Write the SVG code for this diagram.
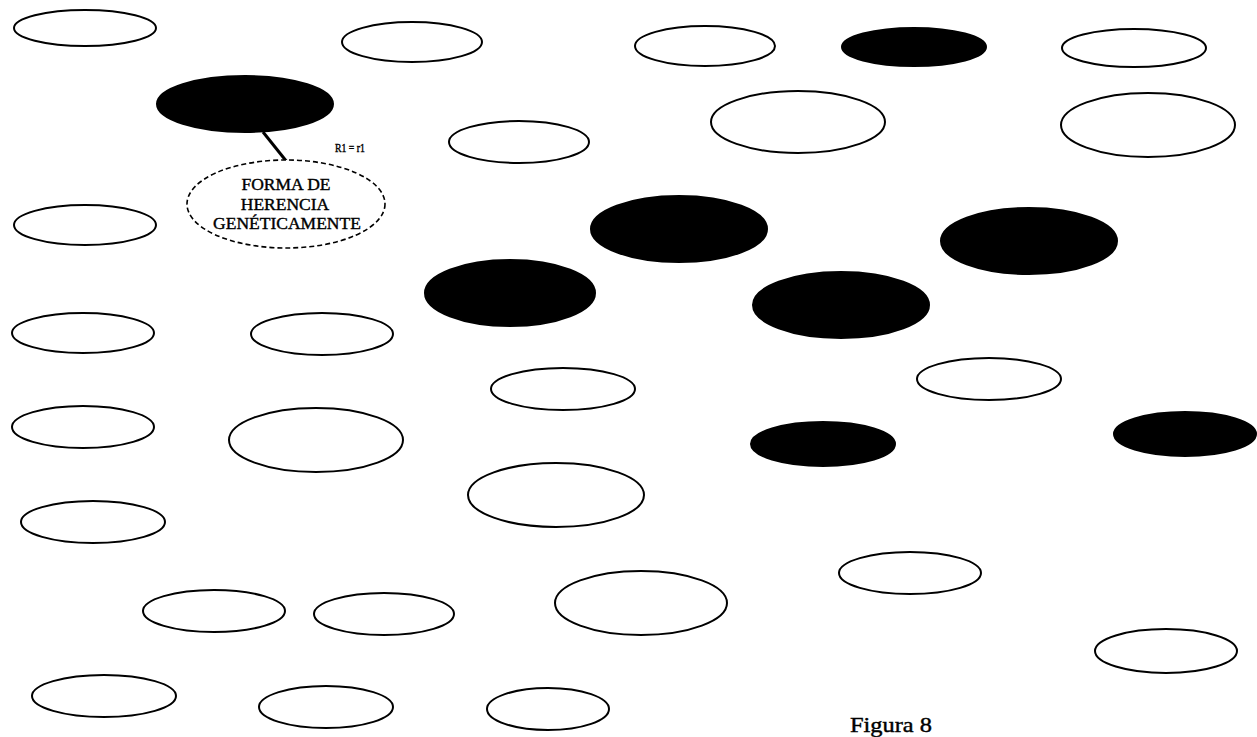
<svg xmlns="http://www.w3.org/2000/svg" width="1257" height="737" viewBox="0 0 1257 737">
<style>
.o{fill:#fff;stroke:#000;stroke-width:2}
.b{fill:#000;stroke:#000;stroke-width:2}
.d{fill:#fff;stroke:#000;stroke-width:1.6;stroke-dasharray:5,3}
.t{font-family:"Liberation Serif","Times New Roman",serif;fill:#000;stroke:#000;stroke-width:0.4}
</style>
<rect width="1257" height="737" fill="#fff"/>
<g id="connectors">
<line x1="263" y1="132" x2="287" y2="162" stroke="#000" stroke-width="3"/>
</g>
<g id="n1"><ellipse class="o" cx="85" cy="28" rx="71" ry="18"/></g>
<g id="n2"><ellipse class="o" cx="412" cy="42" rx="70" ry="20"/></g>
<g id="n3"><ellipse class="o" cx="705" cy="46" rx="70" ry="20"/></g>
<g id="n4"><ellipse class="b" cx="914" cy="47" rx="72" ry="19"/></g>
<g id="n5"><ellipse class="o" cx="1134" cy="48" rx="72" ry="19"/></g>
<g id="n6"><ellipse class="b" cx="245" cy="104" rx="88" ry="28"/></g>
<g id="n7"><ellipse class="o" cx="519" cy="142" rx="70" ry="21"/></g>
<g id="n8"><ellipse class="o" cx="798" cy="122" rx="87" ry="31"/></g>
<g id="n9"><ellipse class="o" cx="1148" cy="125" rx="87" ry="32"/></g>
<g id="n10">
<ellipse class="d" cx="286" cy="204" rx="99" ry="44"/>
<text class="t" x="286" y="190" font-size="17.5" text-anchor="middle">FORMA DE</text>
<text class="t" x="285" y="210" font-size="17.5" text-anchor="middle">HERENCIA</text>
<text class="t" x="287" y="229" font-size="17.5" text-anchor="middle">GENÉTICAMENTE</text>
</g>
<g id="n11"><ellipse class="o" cx="85" cy="225" rx="71" ry="20"/></g>
<g id="n12"><ellipse class="b" cx="679" cy="229" rx="88" ry="33"/></g>
<g id="n13"><ellipse class="b" cx="1029" cy="241" rx="88" ry="33"/></g>
<g id="n14"><ellipse class="b" cx="510" cy="293" rx="85" ry="33"/></g>
<g id="n15"><ellipse class="b" cx="841" cy="305" rx="88" ry="33"/></g>
<g id="n16"><ellipse class="o" cx="83" cy="333" rx="71" ry="20"/></g>
<g id="n17"><ellipse class="o" cx="322" cy="334" rx="71" ry="21"/></g>
<g id="n18"><ellipse class="o" cx="563" cy="389" rx="72" ry="21"/></g>
<g id="n19"><ellipse class="o" cx="989" cy="379" rx="72" ry="21"/></g>
<g id="n20"><ellipse class="o" cx="83" cy="427" rx="71" ry="21"/></g>
<g id="n21"><ellipse class="o" cx="316" cy="440" rx="87" ry="32"/></g>
<g id="n22"><ellipse class="b" cx="823" cy="444" rx="72" ry="22"/></g>
<g id="n23"><ellipse class="b" cx="1185" cy="434" rx="71" ry="22"/></g>
<g id="n24"><ellipse class="o" cx="556" cy="495" rx="88" ry="32"/></g>
<g id="n25"><ellipse class="o" cx="93" cy="522" rx="72" ry="21"/></g>
<g id="n26"><ellipse class="o" cx="910" cy="573" rx="71" ry="21"/></g>
<g id="n27"><ellipse class="o" cx="214" cy="611" rx="71" ry="21"/></g>
<g id="n28"><ellipse class="o" cx="384" cy="614" rx="70" ry="21"/></g>
<g id="n29"><ellipse class="o" cx="641" cy="603" rx="86" ry="32"/></g>
<g id="n30"><ellipse class="o" cx="1166" cy="651" rx="71" ry="22"/></g>
<g id="n31"><ellipse class="o" cx="104" cy="696" rx="72" ry="21"/></g>
<g id="n32"><ellipse class="o" cx="326" cy="707" rx="67" ry="21"/></g>
<g id="n33"><ellipse class="o" cx="548" cy="709" rx="61" ry="21"/></g>
<text class="t" x="335" y="152" font-size="11.5" textLength="30" lengthAdjust="spacingAndGlyphs">R1 = r1</text>
<text class="t" x="850" y="732" font-size="21" textLength="82" lengthAdjust="spacingAndGlyphs" stroke-width="0.6">Figura 8</text>
</svg>
